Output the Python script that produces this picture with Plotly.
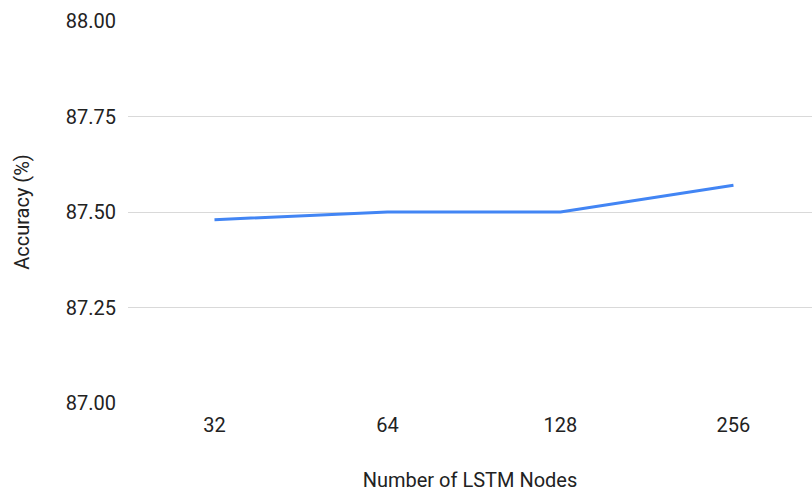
import plotly.graph_objects as go

# LSTM node counts and the resulting accuracy
nodes = ["32", "64", "128", "256"]
accuracy = [87.48, 87.50, 87.50, 87.57]

y_ticks = [87.00, 87.25, 87.50, 87.75, 88.00]
y_tick_text = ["87.00", "87.25", "87.50", "87.75", "88.00"]

fig = go.Figure(
    go.Scatter(
        x=nodes,
        y=accuracy,
        mode="lines",
        line=dict(color="#4285F4", width=3),
        hoverinfo="x+y",
    )
)

font_family = "Roboto, Arial, sans-serif"
text_color = "#222222"
fs = 20

fig.update_layout(
    width=812,
    height=494,
    margin=dict(l=128, r=0, t=21, b=91),
    paper_bgcolor="white",
    plot_bgcolor="white",
    showlegend=False,
    font=dict(family=font_family, size=fs, color=text_color),
    xaxis=dict(
        type="category",
        range=[-0.5, 3.454],
        showgrid=False,
        zeroline=False,
        showline=False,
        ticks="",
        ticklabelstandoff=8,
        tickfont=dict(size=fs, color=text_color),
        title=dict(text="Number of LSTM Nodes", font=dict(size=fs, color=text_color), standoff=36),
    ),
    yaxis=dict(
        range=[87.0, 88.0],
        tickvals=y_ticks,
        ticktext=y_tick_text,
        showgrid=True,
        gridcolor="#d9d9d9",
        gridwidth=1,
        zeroline=False,
        showline=False,
        ticks="",
        ticklabelstandoff=11,
        tickfont=dict(size=fs, color=text_color),
        title=dict(text="Accuracy (%)", font=dict(size=fs, color=text_color), standoff=30),
    ),
)

fig.write_html("out.html")
